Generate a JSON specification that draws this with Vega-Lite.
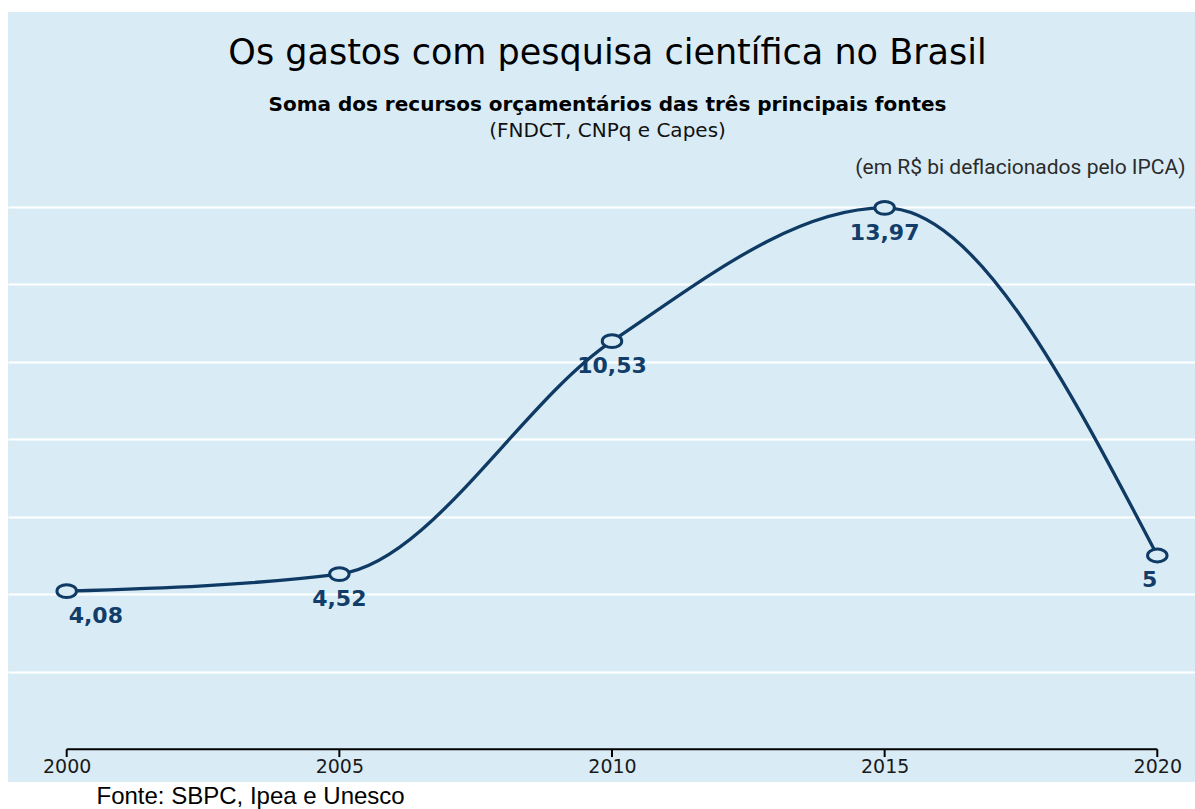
{
  "$schema": "https://vega.github.io/schema/vega-lite/v6.json",
  "width": 1187,
  "height": 770,
  "autosize": {"type": "none"},
  "padding": {"left": 8, "top": 12, "right": 0, "bottom": 27},
  "background": "#ffffff",
  "config": {
    "view": {"fill": "#d9ecf6", "stroke": null},
    "locale": {"number": {"decimal": ",", "thousands": ".", "grouping": [3], "currency": ["R$ ", ""]}}
  },
  "title": {
    "text": "Os gastos com pesquisa científica no Brasil",
    "subtitle": "Soma dos recursos orçamentários das três principais fontes",
    "anchor": "middle",
    "frame": "group",
    "font": "DejaVu Sans",
    "fontSize": 35,
    "fontWeight": "normal",
    "color": "#000000",
    "subtitleFont": "DejaVu Sans",
    "subtitleFontSize": 20,
    "subtitleFontWeight": "bold",
    "subtitleColor": "#000000",
    "subtitlePadding": 24,
    "dx": 6,
    "offset": -103
  },
  "data": {
    "values": [
      {"ano": 2000, "valor": 4.08},
      {"ano": 2005, "valor": 4.52},
      {"ano": 2010, "valor": 10.53},
      {"ano": 2015, "valor": 13.97},
      {"ano": 2020, "valor": 5}
    ]
  },
  "encoding": {
    "x": {
      "field": "ano",
      "type": "quantitative",
      "scale": {"domain": [1998.9235, 2020.6915], "nice": false, "zero": false},
      "axis": {
        "orient": "bottom",
        "offset": -33,
        "values": [2000, 2005, 2010, 2015, 2020],
        "format": "d",
        "domain": false,
        "grid": false,
        "ticks": false,
        "labelFont": "DejaVu Sans",
        "labelFontSize": 19,
        "labelColor": "#1a1a1a",
        "labelPadding": 8,
        "title": "Fonte: SBPC, Ipea e Unesco",
        "titleFont": "Liberation Sans",
        "titleFontSize": 24,
        "titleFontWeight": "normal",
        "titleColor": "#000000",
        "titleAlign": "left",
        "titleBaseline": "alphabetic",
        "titleX": 88,
        "titleY": 54
      }
    }
  },
  "layer": [
    {
      "mark": {"type": "rule", "color": "#000000", "strokeWidth": 2},
      "encoding": {
        "x": {"aggregate": "min", "field": "ano", "type": "quantitative"},
        "x2": {"aggregate": "max", "field": "ano"},
        "y": {"datum": 0, "type": "quantitative", "axis": null}
      }
    },
    {
      "mark": {"type": "rule", "color": "#000000", "strokeWidth": 2},
      "encoding": {
        "y": {"datum": 0, "type": "quantitative", "axis": null},
        "y2": {"datum": -0.2}
      }
    },
    {
      "mark": {"type": "line", "interpolate": "monotone", "color": "#0f3a64", "strokeWidth": 3.3},
      "encoding": {
        "y": {
          "field": "valor",
          "type": "quantitative",
          "scale": {"domain": [-0.844, 19.023], "nice": false, "zero": false},
          "axis": {
            "orient": "left",
            "values": [2, 4, 6, 8, 10, 12, 14],
            "grid": true,
            "gridColor": "#ffffff",
            "gridWidth": 2,
            "gridOpacity": 1,
            "domain": false,
            "ticks": false,
            "labels": false,
            "title": "(FNDCT, CNPq e Capes)",
            "titleFont": "DejaVu Sans",
            "titleFontSize": 20,
            "titleFontWeight": "normal",
            "titleColor": "#111111",
            "titleAngle": 0,
            "titleAlign": "center",
            "titleBaseline": "alphabetic",
            "titleX": 599,
            "titleY": 124
          }
        }
      }
    },
    {
      "mark": {
        "type": "point",
        "shape": "M -1 0 A 1 0.66 0 1 1 1 0 A 1 0.66 0 1 1 -1 0 Z",
        "size": 380,
        "filled": false,
        "fill": "#d9ecf6",
        "fillOpacity": 1,
        "stroke": "#0f3a64",
        "strokeWidth": 3,
        "opacity": 1
      },
      "encoding": {
        "y": {
          "field": "valor",
          "type": "quantitative",
          "axis": {
            "orient": "right",
            "grid": false,
            "domain": false,
            "ticks": false,
            "labels": false,
            "title": "(em R$ bi deflacionados pelo IPCA)",
            "titleFont": "Roboto",
            "titleFontSize": 21,
            "titleFontWeight": "normal",
            "titleColor": "#2b2b2b",
            "titleAngle": 0,
            "titleAlign": "right",
            "titleBaseline": "alphabetic",
            "titleX": -10,
            "titleY": 161
          }
        }
      }
    },
    {
      "transform": [{"filter": "datum.ano == 2000"}],
      "mark": {"type": "text", "align": "left", "baseline": "alphabetic", "dx": 2, "dy": 32, "font": "DejaVu Sans", "fontSize": 22, "fontWeight": "bold", "color": "#123d69"},
      "encoding": {
        "y": {"field": "valor", "type": "quantitative", "axis": null},
        "text": {"field": "valor", "type": "quantitative", "format": ".2~f"}
      }
    },
    {
      "transform": [{"filter": "datum.ano > 2000 && datum.ano < 2020"}],
      "mark": {"type": "text", "align": "center", "baseline": "alphabetic", "dy": 32, "font": "DejaVu Sans", "fontSize": 22, "fontWeight": "bold", "color": "#123d69"},
      "encoding": {
        "y": {"field": "valor", "type": "quantitative", "axis": null},
        "text": {"field": "valor", "type": "quantitative", "format": ".2~f"}
      }
    },
    {
      "transform": [{"filter": "datum.ano == 2020"}],
      "mark": {"type": "text", "align": "right", "baseline": "alphabetic", "dy": 32, "font": "DejaVu Sans", "fontSize": 22, "fontWeight": "bold", "color": "#123d69"},
      "encoding": {
        "y": {"field": "valor", "type": "quantitative", "axis": null},
        "text": {"field": "valor", "type": "quantitative", "format": ".2~f"}
      }
    }
  ]
}
